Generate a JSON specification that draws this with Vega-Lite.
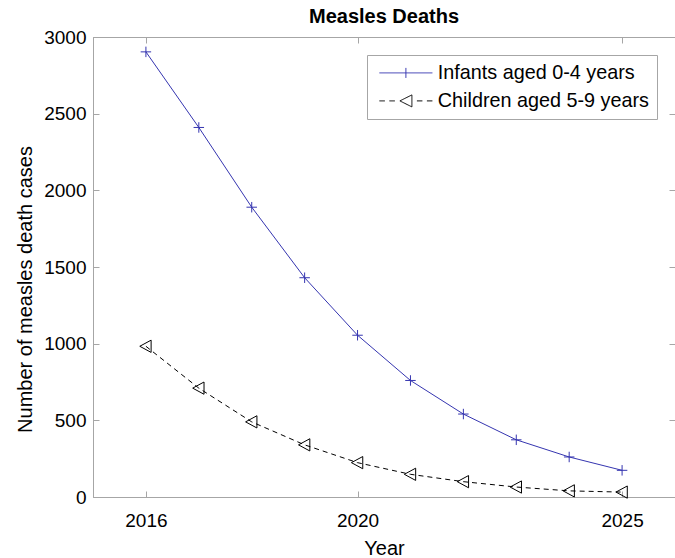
{
  "$schema": "https://vega.github.io/schema/vega-lite/v6.json",
  "width": 582,
  "height": 460,
  "autosize": {"type": "none"},
  "padding": {"left": 93, "top": 37, "right": 0, "bottom": 61},
  "background": "white",
  "title": {
    "text": "Measles Deaths",
    "font": "Liberation Sans",
    "fontSize": 20,
    "fontWeight": "bold",
    "color": "#000000",
    "anchor": "middle",
    "offset": 1
  },
  "config": {
    "font": "Liberation Sans",
    "view": {"stroke": "#a6a6a6", "strokeWidth": 1},
    "axis": {
      "grid": false,
      "domainColor": "#a6a6a6",
      "tickColor": "#a6a6a6",
      "tickSize": -6,
      "labelColor": "#000000",
      "labelFontSize": 19,
      "titleColor": "#000000",
      "titleFontSize": 20,
      "titleFontWeight": "normal"
    }
  },
  "data": {
    "values": [
      {"year": 2016, "series": "Infants aged 0-4 years", "deaths": 2903},
      {"year": 2017, "series": "Infants aged 0-4 years", "deaths": 2410},
      {"year": 2018, "series": "Infants aged 0-4 years", "deaths": 1890},
      {"year": 2019, "series": "Infants aged 0-4 years", "deaths": 1430},
      {"year": 2020, "series": "Infants aged 0-4 years", "deaths": 1055},
      {"year": 2021, "series": "Infants aged 0-4 years", "deaths": 760},
      {"year": 2022, "series": "Infants aged 0-4 years", "deaths": 541},
      {"year": 2023, "series": "Infants aged 0-4 years", "deaths": 373},
      {"year": 2024, "series": "Infants aged 0-4 years", "deaths": 261},
      {"year": 2025, "series": "Infants aged 0-4 years", "deaths": 174},
      {"year": 2016, "series": "Children aged 5-9 years", "deaths": 983},
      {"year": 2017, "series": "Children aged 5-9 years", "deaths": 710},
      {"year": 2018, "series": "Children aged 5-9 years", "deaths": 490},
      {"year": 2019, "series": "Children aged 5-9 years", "deaths": 340},
      {"year": 2020, "series": "Children aged 5-9 years", "deaths": 224},
      {"year": 2021, "series": "Children aged 5-9 years", "deaths": 148},
      {"year": 2022, "series": "Children aged 5-9 years", "deaths": 100},
      {"year": 2023, "series": "Children aged 5-9 years", "deaths": 65},
      {"year": 2024, "series": "Children aged 5-9 years", "deaths": 40},
      {"year": 2025, "series": "Children aged 5-9 years", "deaths": 32}
    ]
  },
  "layer": [
    {
      "transform": [{"filter": "datum.series === 'Infants aged 0-4 years'"}],
      "mark": {"type": "line", "strokeWidth": 1},
      "encoding": {
        "x": {
          "field": "year", "type": "quantitative",
          "scale": {"domain": [2015, 2026], "nice": false, "zero": false},
          "axis": {"values": [2016, 2020, 2025], "format": "d", "title": "Year", "labelPadding": 20, "titlePadding": 8}
        },
        "y": {
          "field": "deaths", "type": "quantitative",
          "scale": {"domain": [0, 3000], "nice": false},
          "axis": {"values": [0, 500, 1000, 1500, 2000, 2500, 3000], "format": "d", "title": "Number of measles death cases", "labelPadding": 13, "titlePadding": 8, "titleY": 252}
        },
        "color": {
          "field": "series", "type": "nominal",
          "scale": {"domain": ["Infants aged 0-4 years", "Children aged 5-9 years"], "range": ["#3535b0", "#000000"]},
          "legend": {
            "title": null,
            "orient": "top-right",
            "offset": 18,
            "padding": 8,
            "strokeColor": "#a6a6a6",
            "fillColor": "#ffffff",
            "cornerRadius": 0,
            "labelFont": "Liberation Sans",
            "labelFontSize": 19.8,
            "labelColor": "#000000",
            "labelLimit": 0,
            "labelOffset": 22,
            "rowPadding": 7,
            "symbolSize": 100,
            "symbolOffset": 21,
            "symbolStrokeWidth": 1,
            "encode": {
              "symbols": {
                "update": {
                  "shape": {"signal": "datum.value === 'Infants aged 0-4 years' ? 'M-5.3,0H5.3M0,-1V1' : 'M-5.3,0H-4.2M-3.3,0H-2.2M-1.2,0L1.2,-1.2L1.2,1.2ZM2.2,0H3.3M4.2,0H5.3'"},
                  "size": {"value": 100},
                  "fill": {"value": "transparent"},
                  "strokeDash": {"value": [1, 0]},
                  "strokeWidth": {"value": 1}
                }
              }
            }
          }
        }
      }
    },
    {
      "transform": [{"filter": "datum.series === 'Children aged 5-9 years'"}],
      "mark": {"type": "line", "strokeWidth": 1, "strokeDash": [5, 4]},
      "encoding": {
        "x": {"field": "year", "type": "quantitative", "axis": null},
        "y": {"field": "deaths", "type": "quantitative", "axis": null},
        "color": {"field": "series", "type": "nominal"}
      }
    },
    {
      "transform": [{"filter": "datum.series === 'Infants aged 0-4 years'"}],
      "mark": {"type": "point", "filled": false, "strokeWidth": 1, "opacity": 1, "size": 110, "shape": "M-1,0H1M0,-1V1"},
      "encoding": {
        "x": {
          "field": "year", "type": "quantitative",
          "axis": {"orient": "top", "values": [2016, 2020, 2025], "labels": false, "title": null}
        },
        "y": {
          "field": "deaths", "type": "quantitative",
          "axis": {"orient": "right", "values": [0, 500, 1000, 1500, 2000, 2500, 3000], "labels": false, "title": null}
        },
        "color": {"field": "series", "type": "nominal"}
      }
    },
    {
      "transform": [{"filter": "datum.series === 'Children aged 5-9 years'"}],
      "mark": {"type": "point", "filled": false, "strokeWidth": 1, "opacity": 1, "size": 150, "shape": "M-1,0L0.85,-1L0.85,1Z"},
      "encoding": {
        "x": {"field": "year", "type": "quantitative", "axis": null},
        "y": {"field": "deaths", "type": "quantitative", "axis": null},
        "color": {"field": "series", "type": "nominal"}
      }
    }
  ],
  "resolve": {"axis": {"x": "independent", "y": "independent"}}
}
